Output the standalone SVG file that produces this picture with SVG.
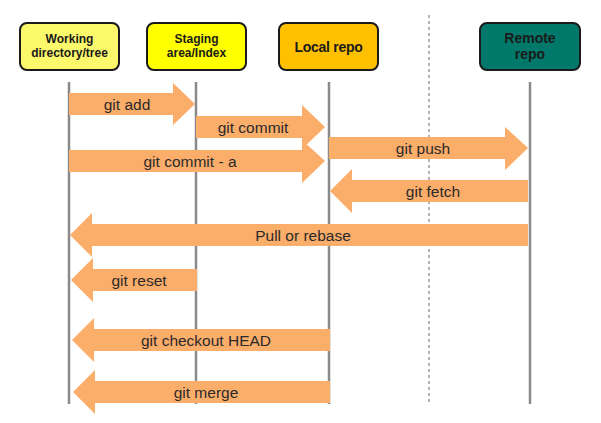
<svg xmlns="http://www.w3.org/2000/svg" width="601" height="423" viewBox="0 0 601 423">
<style>
.box{stroke:#1a1a1a;stroke-width:2}
.hd{font-family:"Liberation Sans",Arial,sans-serif;font-weight:bold;font-size:12px;fill:#1a1a1a;text-anchor:middle}
.life{stroke:#8a8a8a;stroke-width:2.5}
.arr{fill:#FBAD6A}
.lbl{font-family:"Liberation Sans",Arial,sans-serif;font-size:15.5px;fill:#2a2a2a;text-anchor:middle}
</style>
<rect width="601" height="423" fill="#fff"/>
<line x1="429" y1="15" x2="429" y2="405" stroke="#999" stroke-width="1.5" stroke-dasharray="3,3"/>
<g id="working">
<rect class="box" x="20" y="23" width="99" height="47" rx="7" fill="#FCF86C"/>
<text class="hd" x="69.5" y="43">Working</text>
<text class="hd" x="69.5" y="57">directory/tree</text>
</g>
<g id="staging">
<rect class="box" x="147" y="23" width="99" height="47" rx="7" fill="#FFFF00"/>
<text class="hd" x="196.5" y="43">Staging</text>
<text class="hd" x="196.5" y="57">area/Index</text>
</g>
<g id="local">
<rect class="box" x="279" y="23" width="99" height="47" rx="7" fill="#FFC000"/>
<text class="hd" x="328.5" y="52" style="font-size:14px;letter-spacing:-0.3px">Local repo</text>
</g>
<g id="remote">
<rect class="box" x="480" y="23" width="100" height="47" rx="7" fill="#00796B"/>
<text class="hd" x="530" y="43" style="font-size:14px">Remote</text>
<text class="hd" x="530" y="59" style="font-size:14px">repo</text>
</g>
<g id="lifelines">
<line class="life" x1="69" y1="82" x2="69" y2="404"/>
<line class="life" x1="196" y1="82" x2="196" y2="404"/>
<line class="life" x1="329" y1="82" x2="329" y2="404"/>
<line class="life" x1="530" y1="82" x2="530" y2="404"/>
</g>
<g id="connectors">
<polygon class="arr" points="69,93 173,93 173,83 195,104 173,125 173,115 69,115"/>
<text class="lbl" x="127" y="109.5">git add</text>
<polygon class="arr" points="196,116 302,116 302,105 325,127 302,149 302,138 196,138"/>
<text class="lbl" x="253" y="132.5">git commit</text>
<polygon class="arr" points="69,150 302,150 302,140 325,161 302,183 302,172 69,172"/>
<text class="lbl" x="190" y="166.5">git commit - a</text>
<polygon class="arr" points="329,137 505,137 505,127 528,148 505,170 505,159 329,159"/>
<text class="lbl" x="423" y="153.5">git push</text>
<polygon class="arr" points="528,180 352,180 352,169 330,191 352,213 352,202 528,202"/>
<text class="lbl" x="433" y="196.5">git fetch</text>
<polygon class="arr" points="528,224 92,224 92,213 70,235 92,257 92,246 528,246"/>
<text class="lbl" x="303" y="240.5">Pull or rebase</text>
<polygon class="arr" points="197,269 93,269 93,258 71,280 93,302 93,291 197,291"/>
<text class="lbl" x="139" y="285.5">git reset</text>
<polygon class="arr" points="330,329 94,329 94,318 72,340 94,362 94,351 330,351"/>
<text class="lbl" x="206" y="345.5">git checkout HEAD</text>
<polygon class="arr" points="330,381 95,381 95,370 73,392 95,414 95,403 330,403"/>
<text class="lbl" x="206" y="397.5">git merge</text>
</g>
</svg>
